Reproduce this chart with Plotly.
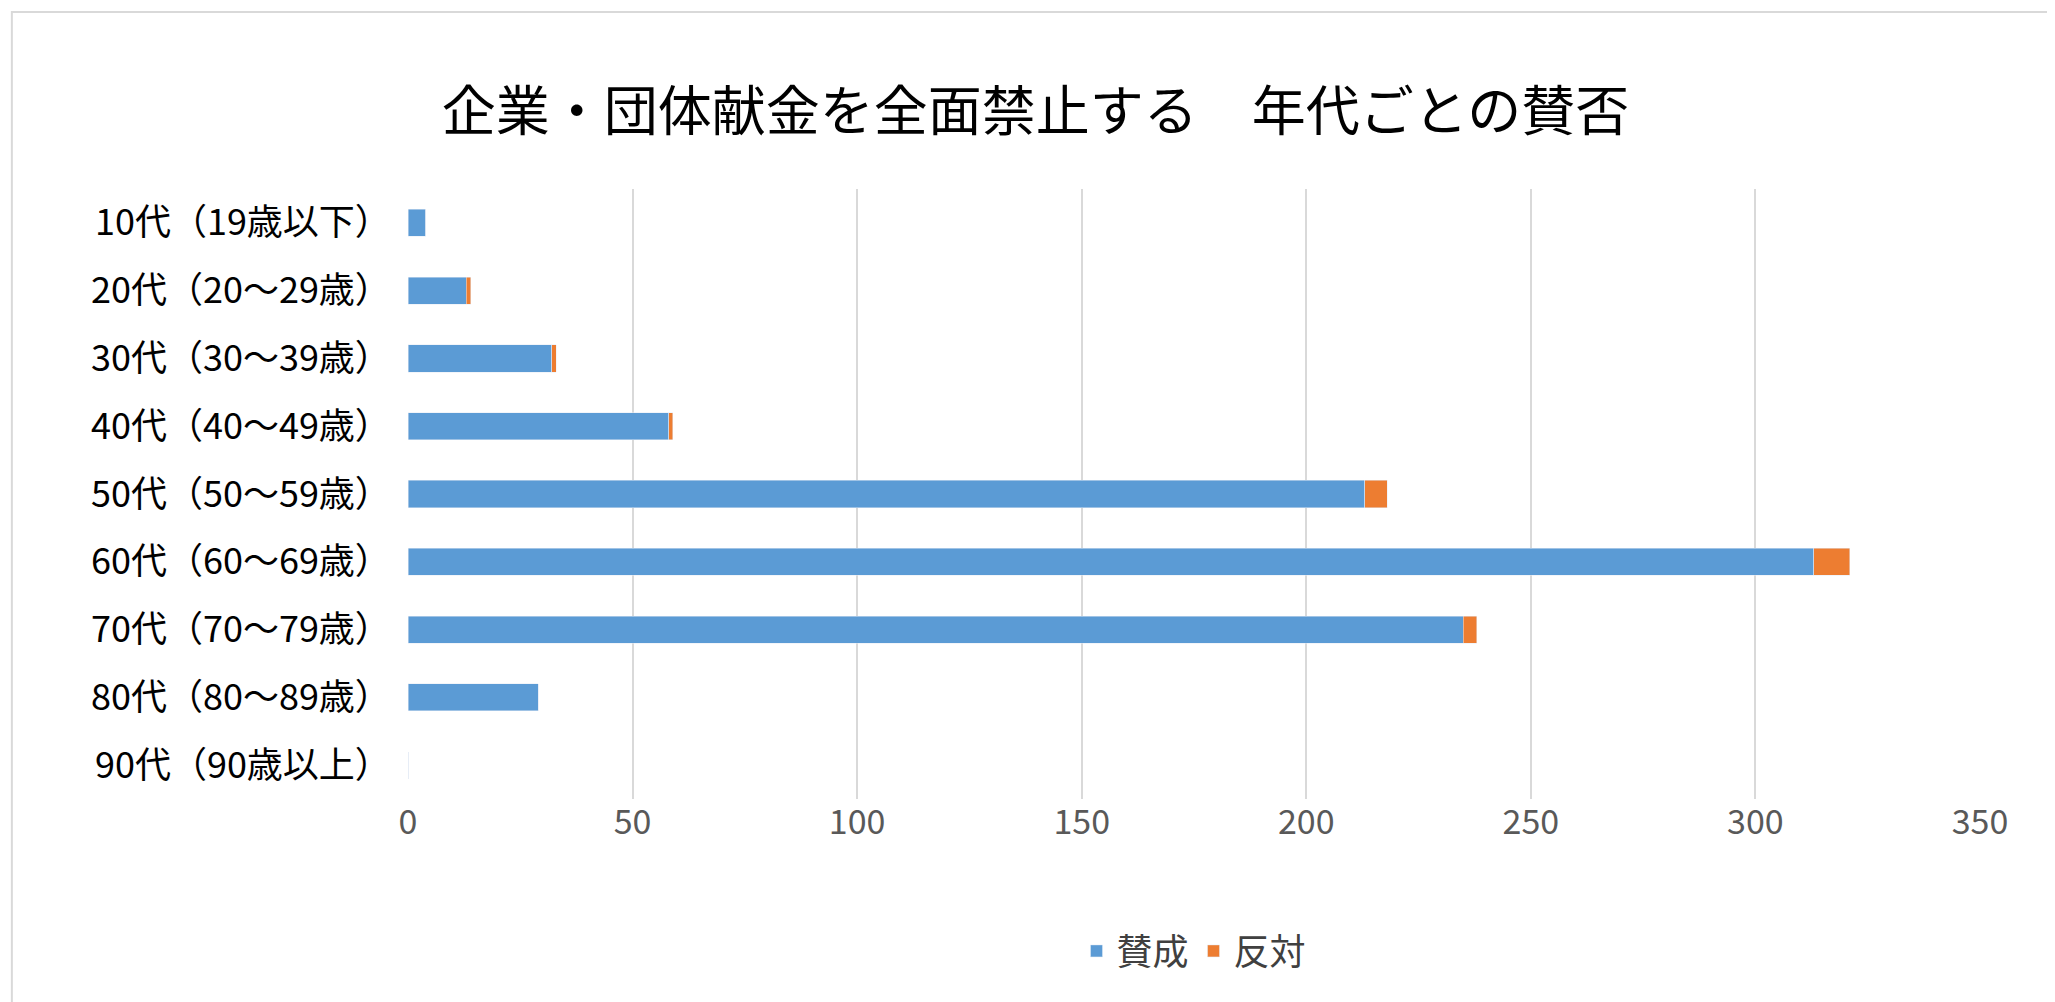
import plotly.graph_objects as go

categories = ["10代（19歳以下）", "20代（20～29歳）", "30代（30～39歳）", "40代（40～49歳）",
              "50代（50～59歳）", "60代（60～69歳）", "70代（70～79歳）", "80代（80～89歳）",
              "90代（90歳以上）"]
agree = [4, 13, 32, 58, 213, 313, 235, 29, 0]
oppose = [0, 1, 1, 1, 5, 8, 3, 0, 0]
ticks = [0, 50, 100, 150, 200, 250, 300, 350]

font = "Noto Sans CJK JP"
fig = go.Figure()
fig.add_bar(y=categories, x=agree, name="賛成", orientation="h", marker_color="#5b9bd5")
fig.add_bar(y=categories, x=oppose, name="反対", orientation="h", marker_color="#ed7d31")
fig.update_layout(
    barmode="stack",
    bargap=0.6,
    width=2055, height=1002,
    paper_bgcolor="white", plot_bgcolor="white",
    font=dict(family=font, color="#404040", size=29),
    title=dict(text="企業・団体献金を全面禁止する　年代ごとの賛否", x=0.5, y=0.915,
               xanchor="center", font=dict(size=54, color="#000000")),
    margin=dict(l=400, r=83, t=181, b=211),
    legend=dict(orientation="h", x=0.5, xanchor="center", y=-0.2, yanchor="top",
                traceorder="normal", font=dict(size=36, color="#404040")),
    xaxis=dict(range=[0, 350], tickvals=ticks, showgrid=True, gridcolor="#d9d9d9",
               gridwidth=2, zeroline=False, tickfont=dict(color="#595959", size=34)),
    yaxis=dict(autorange="reversed", ticksuffix="  ", tickfont=dict(color="#000000", size=36)),
    shapes=[dict(type="rect", xref="paper", yref="paper", x0=-0.252, x1=1.05,
                 y0=-0.34, y1=1.29, line=dict(color="#d9d9d9", width=2))],
)
fig.write_html("out.html")
